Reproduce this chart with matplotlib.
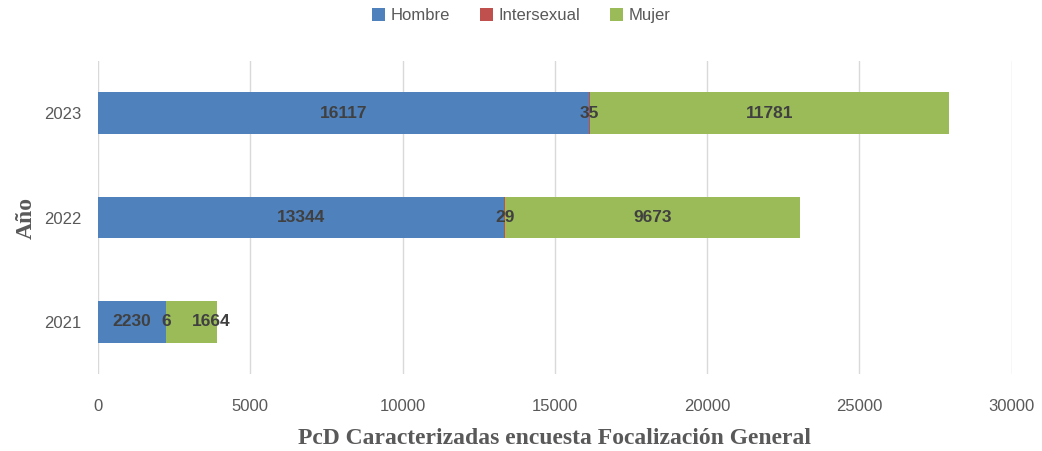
import matplotlib
matplotlib.use("Agg")
import matplotlib.pyplot as plt
import numpy as np

years = ["2021", "2022", "2023"]
series_names = ["Hombre", "Intersexual", "Mujer"]
hombre = [2230, 13344, 16117]
intersexual = [6, 29, 35]
mujer = [1664, 9673, 11781]
x_ticks = [0, 5000, 10000, 15000, 20000, 25000, 30000]

colors = ["#4F81BD", "#C0504D", "#9BBB59"]
sans = ["Liberation Sans Narrow", "Liberation Sans", "DejaVu Sans"]
serif = ["Liberation Serif", "DejaVu Serif"]

fig = plt.figure(figsize=(10.42, 4.51), dpi=100)
ax = fig.add_axes([0.094, 0.1707, 0.877, 0.694])

values = [hombre, intersexual, mujer]
ypos = np.arange(len(years))
left = np.zeros(len(years))
label_offsets = {(2, 0): 14}  # (series, year index) -> points shift to avoid overlap
handles = []
for si, (name, vals, col) in enumerate(zip(series_names, values, colors)):
    vals = np.array(vals, dtype=float)
    b = ax.barh(ypos, vals, left=left, height=0.4, color=col, label=name, zorder=3)
    handles.append(b)
    for yi, (l, v) in enumerate(zip(left, vals)):
        off = label_offsets.get((si, yi), 0)
        ax.annotate(f"{int(v)}", xy=(l + v / 2, ypos[yi]), xytext=(off, 0),
                    textcoords="offset points", ha="center", va="center",
                    fontsize=12.5, fontweight="bold", color="#404040",
                    family=sans, zorder=5)
    left = left + vals

ax.set_xlim(0, 30000)
ax.set_ylim(-0.5, 2.5)
ax.set_xticks(x_ticks)
ax.set_xticklabels([str(t) for t in x_ticks], family=sans, fontsize=12, color="#595959")
ax.set_yticks(ypos)
ax.set_yticklabels(years, family=sans, fontsize=12, color="#595959")
ax.tick_params(axis="x", length=0, pad=18)
ax.tick_params(axis="y", length=0, pad=12)
ax.grid(axis="x", color="#D9D9D9", linewidth=1, zorder=0)
for s in ax.spines.values():
    s.set_visible(False)

ax.set_xlabel("PcD Caracterizadas encuesta Focalización General", family=serif,
              fontsize=17, fontweight="bold", color="#595959", labelpad=10)
ax.set_ylabel("Año", family=serif, fontsize=17, fontweight="bold", color="#595959", labelpad=5)

fig.legend(handles=handles, labels=series_names, loc="upper center",
           bbox_to_anchor=(0.5, 1.015), ncol=3, frameon=False,
           prop={"family": sans, "size": 12}, labelcolor="#595959",
           handlelength=0.8, handleheight=0.8, handletextpad=0.3, columnspacing=1.8)

fig.savefig("out.png", dpi=100)
